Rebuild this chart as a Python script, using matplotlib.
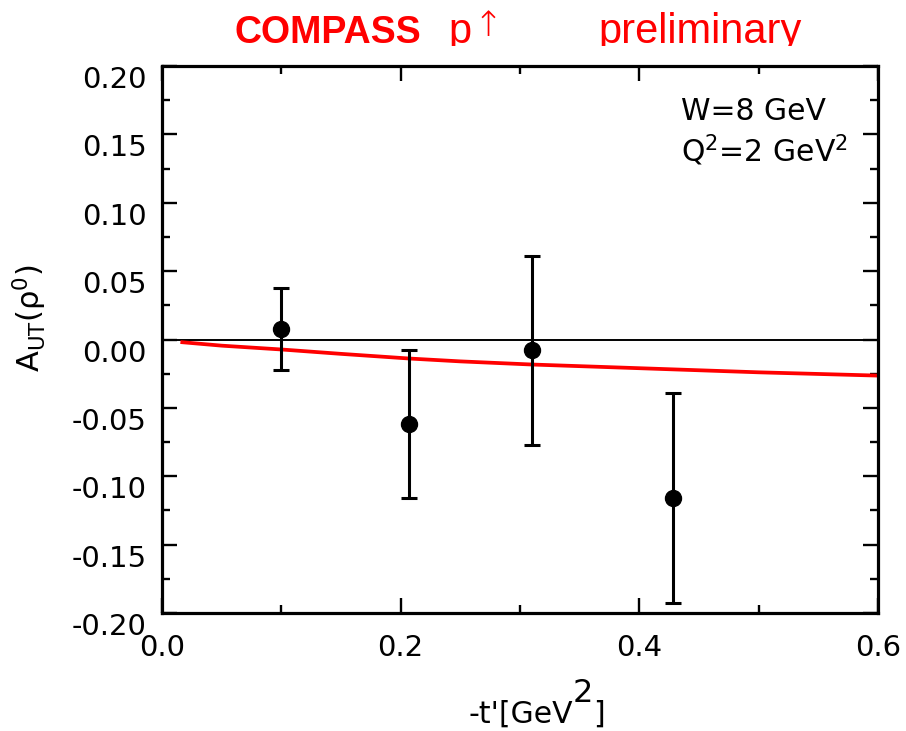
import numpy as np
import matplotlib
matplotlib.use("Agg")
import matplotlib.pyplot as plt
from matplotlib.ticker import MultipleLocator, FormatStrFormatter
from matplotlib.transforms import Bbox, TransformedBbox

# data
t_vals = [0.100, 0.207, 0.310, 0.428]
a_ut = [0.008, -0.062, -0.008, -0.116]
a_err = [0.030, 0.054, 0.069, 0.077]

# model curve
curve_t = [0.017, 0.05, 0.10, 0.15, 0.207, 0.25, 0.31, 0.367, 0.45, 0.50, 0.60]
curve_a = [-0.002, -0.0045, -0.0073, -0.0105, -0.0139, -0.016, -0.0183,
           -0.020, -0.0225, -0.024, -0.0264]

W, H = 906, 731
fig = plt.figure(figsize=(W / 100, H / 100), dpi=100)
ax = fig.add_axes([162 / W, (H - 613) / H, 716 / W, 547 / H])

ax.axhline(0, color="black", lw=1.4, zorder=1)
ax.plot(curve_t, curve_a, color="#ff0000", lw=2.7, zorder=2)
ax.errorbar(t_vals, a_ut, yerr=a_err, fmt="o", color="black", ms=11.5,
            elinewidth=2.2, capsize=6, capthick=2.2, zorder=3)

ax.set_xlim(0.0, 0.6)
ax.set_ylim(-0.2, 0.2)
ax.xaxis.set_major_locator(MultipleLocator(0.2))
ax.xaxis.set_minor_locator(MultipleLocator(0.1))
ax.yaxis.set_major_locator(MultipleLocator(0.05))
ax.yaxis.set_minor_locator(MultipleLocator(0.025))
ax.xaxis.set_major_formatter(FormatStrFormatter("%.1f"))
ax.yaxis.set_major_formatter(FormatStrFormatter("%.2f"))

ax.tick_params(which="both", direction="in", top=True, right=True, width=1.7)
ax.tick_params(which="major", length=11, labelsize=21)
ax.tick_params(which="minor", length=6)
ax.tick_params(axis="y", pad=11)
ax.tick_params(axis="x", pad=15)
for lab in ax.get_yticklabels():
    lab.set_verticalalignment("top")
for sp in ax.spines.values():
    sp.set_linewidth(2.3)

# annotations
ax.text(681 / W, 1 - 120 / H, "W=8 GeV", transform=fig.transFigure,
        fontsize=21.5, ha="left", va="baseline")
ax.text(681 / W, 1 - 162 / H, r"Q$^2$=2 GeV$^2$", transform=fig.transFigure,
        fontsize=21.5, ha="left", va="baseline")

# axis labels
fig.text(30 / W, 1 - 318 / H, r"A$_{\mathrm{UT}}$(ρ$^{0}$)", rotation=90,
         fontsize=22, ha="center", va="center")
t1 = fig.text(468 / W, 1 - 729 / H, "-t'[GeV", fontsize=21.5,
              ha="left", va="bottom")
t2 = ax.annotate("2", xy=(1, 0), xycoords=t1, xytext=(0, 20),
                 textcoords="offset pixels", fontsize=23, ha="left", va="bottom")
ax.annotate("]", xy=(1, 0), xycoords=t2, xytext=(0, -20),
            textcoords="offset pixels", fontsize=21.5, ha="left", va="bottom")

# title, cut off just under the baseline like the reference
clip = TransformedBbox(Bbox([[0, 1 - 46 / H], [1, 1]]), fig.transFigure)
red_font = ["Liberation Sans", "DejaVu Sans"]
titles = [
    fig.text(235 / W, 1 - 43 / H, "COMPASS", color="#ff0000", fontsize=27,
             fontweight="bold", family=red_font, ha="left", va="baseline"),
    fig.text(448 / W, 1 - 43 / H, "p", color="#ff0000", fontsize=30,
             family=red_font, ha="left", va="baseline"),
    fig.text(473 / W, 1 - 36 / H, "↑", color="#ff0000", fontsize=25,
             family=["DejaVu Sans"], fontweight="light", ha="left", va="baseline"),
    fig.text(598 / W, 1 - 43 / H, "preliminary", color="#ff0000", fontsize=30,
             family=red_font, ha="left", va="baseline"),
]
for t in titles:
    t.set_clip_box(clip)
    t.set_clip_on(True)

fig.savefig("out.png", dpi=100)
